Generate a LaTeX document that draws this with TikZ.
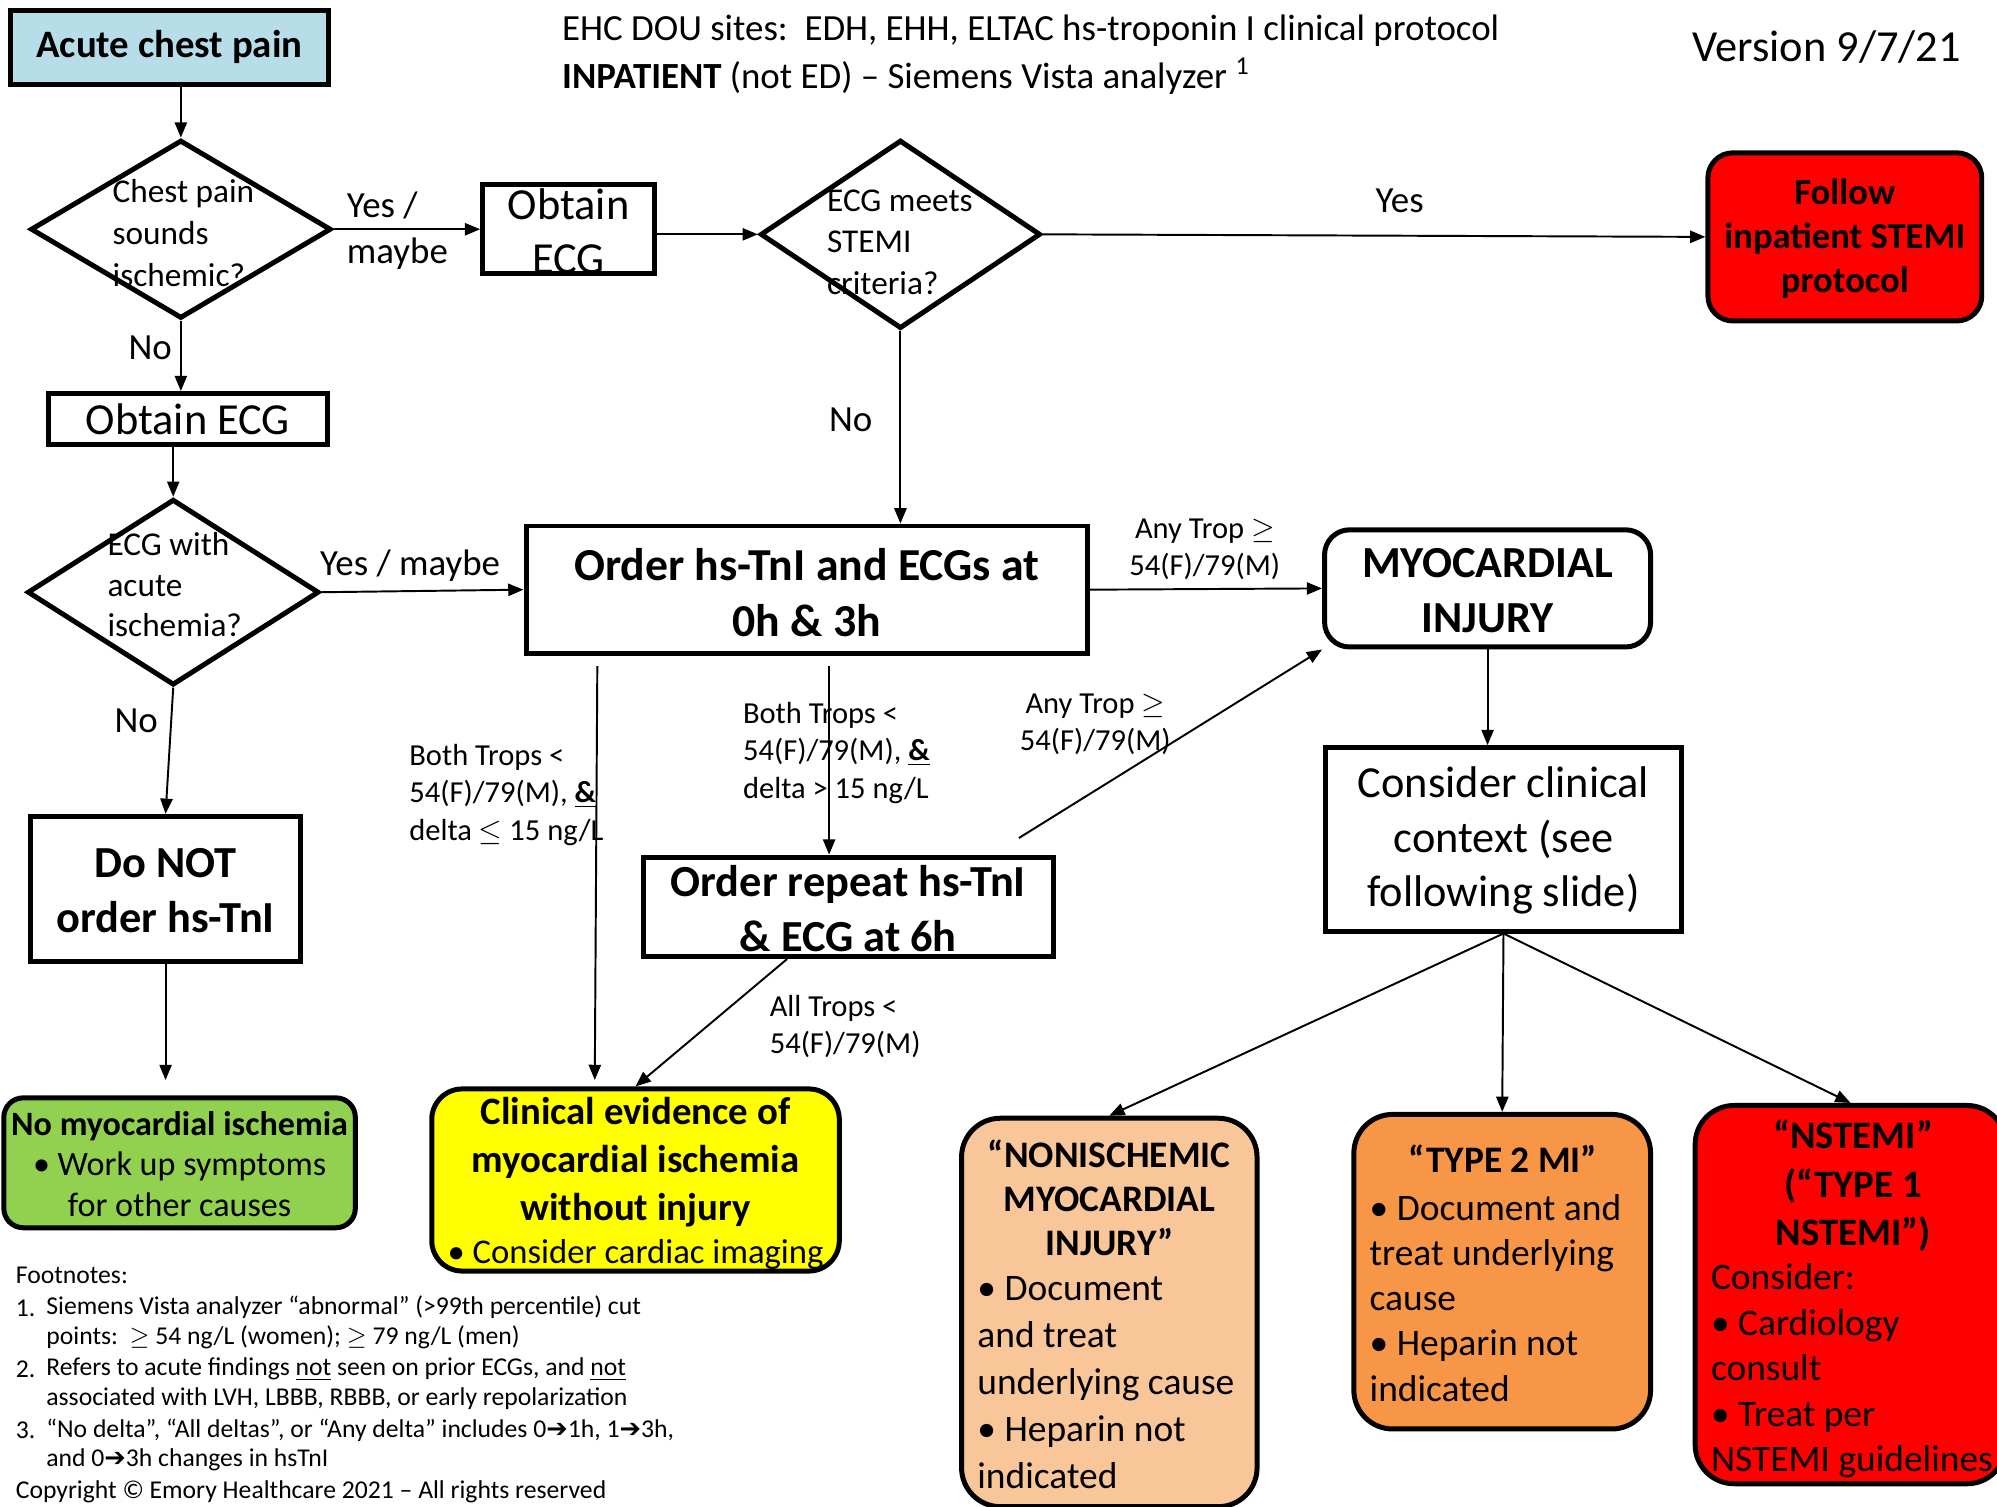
\documentclass[tikz,border=0pt]{standalone}
\usepackage{fontspec}
\setmainfont{Carlito}
\newfontfamily\dejavu{DejaVu Sans}
\usetikzlibrary{arrows.meta,shapes.geometric}
\newcommand\myfs[2]{\fontsize{#1}{#2}\selectfont}
\definecolor{lblue}{RGB}{183,222,232}
\definecolor{grn}{RGB}{146,208,80}
\definecolor{peach}{RGB}{248,198,152}
\definecolor{orng}{RGB}{247,150,70}
\definecolor{yel}{RGB}{255,255,0}
\definecolor{rd}{RGB}{255,0,0}
\begin{document}
\begin{tikzpicture}[x=0.4592pt,y=-0.4592pt,
  conn/.style={line width=0.7pt,-{Triangle[length=5.5pt,width=4.4pt]}},
  sbox/.style={draw,line width=1.8pt,inner sep=0pt},
  rbox/.style={sbox,rounded corners=#1},
  dia/.style={draw,diamond,line width=1.8pt,inner sep=0pt},
  sz/.style 2 args={minimum width=#1*0.4592pt,minimum height=#2*0.4592pt},
  tx/.style={inner sep=0pt,align=center},
  tl/.style={inner sep=0pt,align=left,anchor=west},
  f13/.style={font=\myfs{13.3}{16.5}},
  f11/.style={font=\myfs{11}{13.4}},
  f16/.style={font=\myfs{16}{19.7}},
  f16b/.style={font=\myfs{16}{19.7}\bfseries},
  fn/.style={tl,font=\myfs{9.25}{10.7}},
]
\useasboundingbox (0,0) rectangle (1568,1183);

% titles
\node[tl,font=\myfs{13.3}{16.5}] (ti1) at (441,24) {EHC DOU sites:\ \ EDH, EHH, ELTAC hs-troponin I clinical protocol};
\node[tl,font=\myfs{13.3}{16.5}] (ti2) at (441,60) {\textbf{INPATIENT} (not ED) – Siemens Vista analyzer \textsuperscript{1}};
\node[inner sep=0pt,anchor=east,font=\myfs{16}{19}] (ver) at (1540,37) {Version 9/7/21};

% start
\node[sbox,fill=lblue,sz={250}{58}] (acp) at (133,37) {};
\node[tx,font=\myfs{14}{17}\bfseries] (acpt) at (133,37) {Acute chest pain};

% diamond 1
\node[dia,sz={236}{140}] (d1) at (142,180) {};
\node[tl,font=\myfs{12}{15.2}] (d1t) at (88,183) {Chest pain\\sounds\\ischemic?};
\node[tl,f13] (ym1) at (272,181) {Yes /\\maybe};

% obtain ECG 1
\node[sbox,sz={135}{70}] (ob1) at (446.5,180) {};
\node[tx,f16] (ob1t) at (446.5,181.5) {Obtain\\ECG};

% diamond 2
\node[dia,sz={220}{148}] (d2) at (707,184) {};
\node[tl,font=\myfs{12}{15}] (d2t) at (649,190) {ECG meets\\STEMI\\criteria?};
\node[tx,f13] (yes1) at (1099,158) {Yes};
\node[tx,f13] (no2) at (668,330) {No};

% STEMI
\node[rbox=9pt,fill=rd,sz={215}{132}] (stemi) at (1448.5,186) {};
\node[tx,font=\myfs{13.2}{15.8}\bfseries] (stemit) at (1448.5,187.5) {Follow\\inpatient STEMI\\protocol};

% obtain ECG 2
\node[sbox,sz={219}{40}] (ob2) at (147.5,329) {};
\node[tx,f16] (ob2t) at (147.5,329) {Obtain ECG};
\node[tx,f13] (no1) at (118,273) {No};

% diamond 3
\node[dia,sz={229}{146}] (d3) at (136,465) {};
\node[tl,font=\myfs{12}{14.7}] (d3t) at (84,459) {ECG with\\acute\\ischemia?};
\node[tx,f13] (ym2) at (322,444) {Yes / maybe};
\node[tx,f13] (no3) at (107,566) {No};

% order box
\node[sbox,sz={441}{100}] (ord) at (633.5,463) {};
\node[tx,font=\myfs{16.5}{20.2}\bfseries] (ordt) at (633.5,465) {Order hs-TnI and ECGs at\\0h \& 3h};

% myocardial injury
\node[rbox=9pt,sz={256}{92}] (myo) at (1168,462) {};
\node[tx,f16b] (myot) at (1168,463.5) {MYOCARDIAL\\INJURY};
\node[tx,f11] (at1) at (946,431) {Any Trop $\geq$\\54(F)/79(M)};

% context
\node[sbox,sz={279}{144}] (ctx) at (1180.5,659) {};
\node[tx,f16] (ctxt) at (1180.5,660) {Consider clinical\\context (see\\following slide)};

% do not
\node[sbox,sz={212}{114}] (dont) at (130,698) {};
\node[tx,f16b] (dontt) at (130,699.5) {Do NOT\\order hs-TnI};

% green
\node[rbox=7pt,fill=grn,sz={276}{102}] (gr) at (141,913) {};
\node[tx,font=\myfs{12.3}{14.7}] (grt) at (141,914) {\textbf{No myocardial ischemia}\\• Work up symptoms\\for other causes};

% repeat box
\node[sbox,sz={322}{78}] (rep) at (666,712) {};
\node[tx,f16b] (rept) at (666,713.5) {Order repeat hs-TnI\\\& ECG at 6h};

% labels
\node[tl,font=\myfs{11}{13.5}] (bt1) at (321,624) {Both Trops <\\54(F)/79(M), \underline{\textbf{\&}}\\delta $\leq$ 15 ng/L};
\node[tl,font=\myfs{11}{13.5}] (bt2) at (583,591) {Both Trops <\\54(F)/79(M), \underline{\textbf{\&}}\\delta > 15 ng/L};
\node[tx,f11] (at2) at (860,569) {Any Trop $\geq$\\54(F)/79(M)};
\node[tl,f11] (alt) at (604,806) {All Trops <\\54(F)/79(M)};

% yellow
\node[rbox=11pt,fill=yel,sz={320}{143}] (yel) at (499,926.5) {};
\node[tx,font=\myfs{14}{17.2}\bfseries] (yelt) at (499,912.5) {Clinical evidence of\\myocardial ischemia\\without injury};
\node[tx,font=\myfs{12.5}{15}] (yelb) at (499,985) {• Consider cardiac imaging};

% nonischemic
\node[rbox=14pt,fill=peach,sz={232}{305}] (non) at (871,1030.5) {};
\node[tx,font=\myfs{13.5}{15.8}\bfseries] (nonh) at (871,940.5) {“NONISCHEMIC\\MYOCARDIAL\\INJURY”};
\node[tl,font=\myfs{13.5}{17}] (nonb) at (767,1085.5) {• Document\\and treat\\underlying cause\\• Heparin not\\indicated};

% type 2
\node[rbox=14pt,fill=orng,sz={233}{247}] (t2) at (1179.5,998.5) {};
\node[tx,font=\myfs{13.5}{16}\bfseries] (t2h) at (1180,910) {“TYPE 2 MI”};
\node[tl,font=\myfs{13.5}{16.3}] (t2b) at (1075,1019) {• Document and\\treat underlying\\cause\\• Heparin not\\indicated};

% nstemi
\node[rbox=14pt,fill=rd,sz={244}{297}] (nst) at (1453,1016.5) {};
\node[tx,font=\myfs{14}{17.4}\bfseries] (nsth) at (1455,931) {“NSTEMI”\\(“TYPE 1\\NSTEMI”)};
\node[tl,font=\myfs{13.5}{16.4}] (nstb) at (1343,1076.5) {Consider:\\• Cardiology\\consult\\• Treat per\\NSTEMI guidelines};

% footnotes
\node[fn] (fn0) at (12,1001) {Footnotes:};
\node[fn] (fn1n) at (12,1027) {1.};
\node[fn] (fn1) at (36,1038.5) {Siemens Vista analyzer “abnormal” (>99th percentile) cut\\points:\ \ $\geq$ 54 ng/L (women); $\geq$ 79 ng/L (men)};
\node[fn] (fn2n) at (12,1075) {2.};
\node[fn] (fn2) at (36,1086.5) {Refers to acute findings \underline{not} seen on prior ECGs, and \underline{not}\\associated with LVH, LBBB, RBBB, or early repolarization};
\node[fn] (fn3n) at (12,1123) {3.};
\node[fn] (fn3) at (36,1134.5) {“No delta”, “All deltas”, or “Any delta” includes 0{\dejavu\bfseries ➔}1h, 1{\dejavu\bfseries ➔}3h,\\and 0{\dejavu\bfseries ➔}3h changes in hsTnI};
\node[fn] (fnc) at (12,1171) {Copyright © Emory Healthcare 2021 – All rights reserved};

% coordinates
\coordinate (c1s) at (469,523);
\coordinate (c1e) at (467,848);
\coordinate (c2s) at (651,523);
\coordinate (c3s) at (800,658);
\coordinate (c4s) at (618,753);
\coordinate (c5e) at (130,848);

% connectors
\draw[conn] (d1.north |- acp.south) -- (d1.north);
\draw[conn] (d1.east) -- (ob1.west);
\draw[conn] (ob1.east |- d2.west) -- (d2.west);
\draw[conn] (d2.east) -- (stemi.west);
\draw[conn] (d1.south) -- (d1.south |- ob2.north);
\draw[conn] (d3.north |- ob2.south) -- (d3.north);
\draw[conn] (d3.east) -- (ord.west);
\draw[conn] (d2.south) -- (d2.south |- ord.north);
\draw[conn] (ord.east) -- (myo.west);
\draw[conn] (myo.south) -- (myo.south |- ctx.north);
\draw[conn] (d3.south) -- (dont.north);
\draw[conn] (dont.south) -- (c5e);
\draw[conn] (c1s) -- (c1e);
\draw[conn] (c2s) -- (c2s |- rep.north);
\draw[conn] (c3s) -- (myo.south west);
\draw[conn] (c4s) -- (yel.north);
\draw[conn] (ctx.south) -- (non.north);
\draw[conn] (ctx.south) -- (t2.north);
\draw[conn] (ctx.south) -- (nst.north);
\end{tikzpicture}
\end{document}
